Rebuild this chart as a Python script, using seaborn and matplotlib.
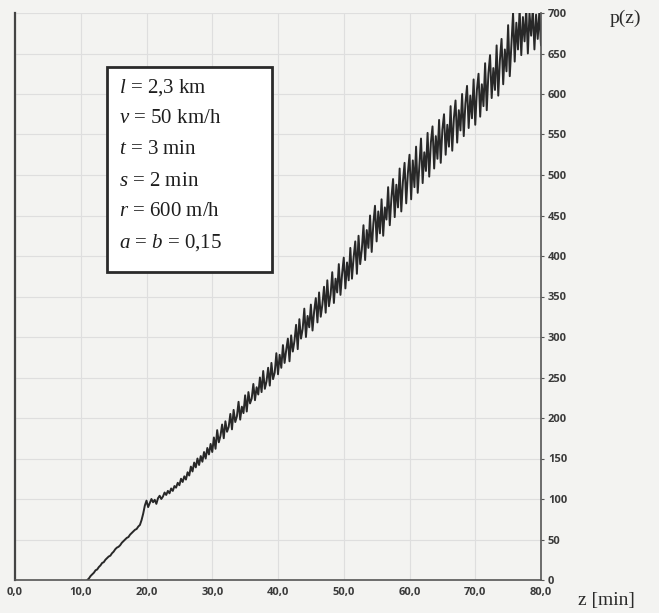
import numpy as np
import pandas as pd
import matplotlib
matplotlib.use("Agg")
import matplotlib.pyplot as plt
from matplotlib.patches import Rectangle
import seaborn as sns

# ---- data ----
z_start, z_step = 11.0, 0.25
p_values = [
    # 11.00 - 19.00
    0, 2, 5, 7, 9, 12, 13, 16, 18, 21, 22, 25, 27, 29, 30, 33, 35, 38, 40,
    41, 43, 46, 48, 50, 52, 53, 56, 58, 60, 62, 63, 66, 68,
    # 19.25 - 30.00
    74, 82, 92, 98, 90, 95, 100, 96, 99, 94, 101, 104, 100, 103, 108, 105,
    110, 107, 113, 110, 116, 114, 120, 117, 125, 121, 128, 124, 133, 129,
    140, 134, 145, 139, 150, 142, 153, 146, 158, 150, 163, 155, 168, 158,
    # 30.25 - 40.00
    176, 162, 185, 170, 178, 192, 175, 196, 183, 189, 205, 186, 210, 195,
    202, 220, 198, 214, 206, 228, 208, 232, 218, 224, 242, 222, 238, 229,
    250, 232, 258, 236, 245, 262, 240, 268, 248, 256, 280, 254,
    # 40.25 - 50.00
    278, 262, 290, 268, 284, 298, 270, 302, 282, 295, 315, 285, 322, 298,
    310, 335, 300, 326, 312, 340, 308, 332, 348, 318, 355, 325, 340, 362,
    330, 370, 338, 352, 380, 342, 372, 355, 390, 352, 378, 398,
    # 50.25 - 60.00
    360, 392, 370, 410, 372, 398, 418, 378, 425, 390, 408, 438, 395, 432,
    410, 450, 405, 440, 462, 418, 455, 428, 470, 425, 460, 445, 485, 438,
    472, 495, 448, 488, 460, 508, 455, 492, 515, 465, 502, 525,
    # 60.25 - 70.00
    470, 518, 485, 535, 478, 512, 545, 490, 528, 505, 552, 498, 540, 560,
    508, 548, 520, 568, 515, 556, 575, 525, 562, 535, 585, 530, 570, 592,
    540, 580, 555, 600, 548, 588, 610, 558, 598, 570, 618, 562,
    # 70.25 - 80.00
    605, 625, 572, 612, 585, 638, 580, 625, 648, 595, 632, 605, 660, 598,
    642, 668, 612, 655, 628, 685, 622, 662, 700, 640, 688, 655, 705, 648,
    695, 665, 705, 650, 700, 672, 705, 655, 698, 668, 702, 660,
]
z_values = z_start + z_step * np.arange(len(p_values))

x_ticks = [0, 10, 20, 30, 40, 50, 60, 70, 80]
x_tick_labels = ["0,0", "10,0", "20,0", "30,0", "40,0", "50,0", "60,0", "70,0", "80,0"]
y_ticks = list(range(0, 701, 50))
y_tick_labels = ["0", "50", "100", "150", "200", "250", "300", "350", "400",
                 "450", "500", "550", "600", "650", "700"]
params = [r"$l$ = 2,3 km", r"$v$ = 50 km/h", r"$t$ = 3 min",
          r"$s$ = 2 min", r"$r$ = 600 m/h", r"$a$ = $b$ = 0,15"]

df = pd.DataFrame({"z": z_values, "p": p_values})

# ---- style ----
sns.set_theme(style="white")
plt.rcParams["font.family"] = ["DejaVu Sans"]
plt.rcParams["mathtext.fontset"] = "custom"
plt.rcParams["mathtext.it"] = "Liberation Serif:italic"
plt.rcParams["mathtext.rm"] = "Liberation Serif"

W, H = 659, 613
fig = plt.figure(figsize=(W / 100, H / 100), dpi=100, facecolor="#f3f3f1")
ax = fig.add_axes([15 / W, 1 - 580 / H, (541 - 15) / W, (580 - 13) / H])
ax.set_facecolor("#f3f3f1")

sns.lineplot(data=df, x="z", y="p", ax=ax, color="#282828", linewidth=1.4)

ax.set_xlim(0, 80)
ax.set_ylim(0, 700)
ax.set_xticks(x_ticks)
ax.set_xticklabels(x_tick_labels)
ax.set_yticks(y_ticks)
ax.set_yticklabels(y_tick_labels)
ax.yaxis.tick_right()
ax.grid(True, color="#dedede", linewidth=0.8)
ax.set_axisbelow(True)
ax.set_xlabel("")
ax.set_ylabel("")

for lab in ax.get_xticklabels() + ax.get_yticklabels():
    lab.set_fontfamily("Open Sans")
    lab.set_fontweight("bold")
    lab.set_fontsize(8)
    lab.set_color("#3a3a3a")
ax.tick_params(axis="both", length=2, width=0.8, color="#555555", pad=3)

ax.spines["top"].set_visible(False)
ax.spines["left"].set_color("#444444")
ax.spines["left"].set_linewidth(1.6)
ax.spines["bottom"].set_color("#555555")
ax.spines["bottom"].set_linewidth(1.2)
ax.spines["right"].set_color("#555555")
ax.spines["right"].set_linewidth(1.2)

# axis titles
fig.text(625 / W, 1 - 18 / H, "p(z)", family="Liberation Serif", fontsize=14,
         ha="center", va="center", color="#2a2a2a")
fig.text(606 / W, 1 - 601 / H, "z [min]", family="Liberation Serif", fontsize=14,
         ha="center", va="center", color="#2a2a2a")

# parameter box
box = Rectangle((107 / W, 1 - 272 / H), (272 - 107) / W, (272 - 67) / H,
                transform=fig.transFigure, facecolor="white",
                edgecolor="#2a2a2a", linewidth=2, zorder=5)
fig.patches.append(box)
for i, txt in enumerate(params):
    fig.text(119 / W, 1 - (88 + 31 * i) / H, txt, family="Liberation Serif",
             fontsize=15, ha="left", va="center", color="#1e1e1e", zorder=6)

fig.savefig("out.png", dpi=100, facecolor=fig.get_facecolor())
